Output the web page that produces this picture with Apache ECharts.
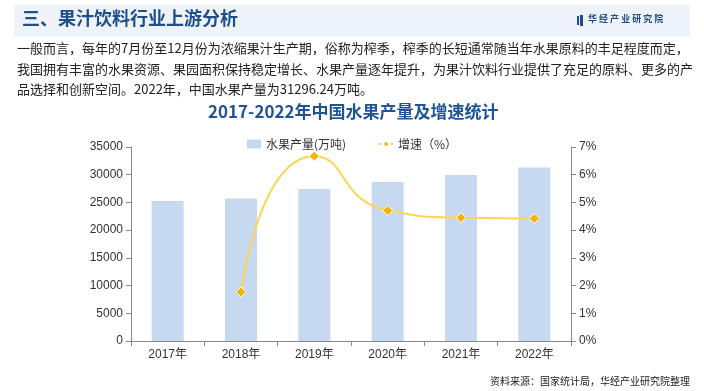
<!DOCTYPE html>
<html><head><meta charset="utf-8">
<script src="https://cdn.jsdelivr.net/npm/echarts@6/dist/echarts.min.js"></script>
<style>html,body{margin:0;padding:0;background:#fff;}#c{width:704px;height:391px;}</style>
</head><body><div id="c"></div>
<script>
const categories = ['2017年','2018年','2019年','2020年','2021年','2022年'];
const production = [25241.9, 25688.35, 27400.84, 28692.36, 29970.2, 31296.24];
const growth = [null, 1.77, 6.67, 4.71, 4.45, 4.42];
const leftTicks = {min:0, max:35000, interval:5000};
const rightTicks = {min:0, max:7, interval:1};

const F = '"Microsoft YaHei","Noto Sans CJK SC",sans-serif';
const FA = 'Arial,"Liberation Sans","Noto Sans CJK SC",sans-serif';
const chart = echarts.init(document.getElementById('c'));
chart.setOption({
  animation:false,
  backgroundColor:'#fff',
  graphic:[
    {type:'rect',shape:{x:14,y:5,width:676,height:32},style:{fill:'#EEF3FA'},z:-1},
    {type:'text',left:22,top:9,style:{text:'三、果汁饮料行业上游分析',font:'bold 18px '+F,fill:'#1F4E8C'}},
    {type:'rect',shape:{x:577,y:16,width:2,height:9},style:{fill:'#1F4E8C'}},
    {type:'rect',shape:{x:580,y:15,width:3,height:11},style:{fill:'#1F4E8C'}},
    {type:'text',left:588,top:14,style:{text:'华 经 产 业 研 究 院',font:'bold 9px '+F,fill:'#1F4E8C'}},
    {type:'text',left:17,top:42,style:{text:'一般而言，每年的7月份至12月份为浓缩果汁生产期，俗称为榨季，榨季的长短通常随当年水果原料的丰足程度而定，',font:'13px '+F,fill:'#222'}},
    {type:'text',left:17,top:63,style:{text:'我国拥有丰富的水果资源、果园面积保持稳定增长、水果产量逐年提升，为果汁饮料行业提供了充足的原料、更多的产',font:'13px '+F,fill:'#222'}},
    {type:'text',left:17,top:83,style:{text:'品选择和创新空间。2022年，中国水果产量为31296.24万吨。',font:'13px '+F,fill:'#222'}},
    {type:'text',left:208,top:103,style:{text:'2017-2022年中国水果产量及增速统计',font:'bold 17px '+F,fill:'#1F5496'}},
    {type:'text',right:14,top:376,style:{text:'资料来源：国家统计局，华经产业研究院整理',font:'10px '+F,fill:'#222'}}
  ],
  legend:{
    top:133,left:'center',itemGap:32,itemWidth:14,itemHeight:9,
    textStyle:{fontSize:12,fontFamily:F,color:'#333'},
    data:[{name:'水果产量(万吨)',icon:'rect'},{name:'增速（%）'}]
  },
  grid:{left:131,right:133,top:147,bottom:50},
  xAxis:{
    type:'category',data:categories,boundaryGap:true,
    axisLine:{lineStyle:{color:'#888'}},
    axisTick:{show:true,alignWithLabel:false,lineStyle:{color:'#888'}},
    axisLabel:{color:'#333',fontSize:12,fontFamily:FA,margin:8}
  },
  yAxis:[
    {type:'value',min:leftTicks.min,max:leftTicks.max,interval:leftTicks.interval,
     axisLine:{show:true,lineStyle:{color:'#888'}},axisTick:{show:true,inside:false,lineStyle:{color:'#888'}},
     splitLine:{show:false},axisLabel:{color:'#333',fontSize:12,fontFamily:FA,margin:8,formatter:v=>String(v)}},
    {type:'value',min:rightTicks.min,max:rightTicks.max,interval:rightTicks.interval,
     axisLine:{show:true,lineStyle:{color:'#888'}},axisTick:{show:true,lineStyle:{color:'#888'}},
     splitLine:{show:false},axisLabel:{color:'#333',fontSize:12,fontFamily:FA,margin:8,formatter:'{value}%'}}
  ],
  series:[
    {name:'水果产量(万吨)',type:'bar',data:production,barWidth:32,
     itemStyle:{color:'#C6D9F1'}},
    {name:'增速（%）',type:'line',yAxisIndex:1,data:growth,smooth:0.6,
     symbol:'diamond',symbolSize:10,
     lineStyle:{color:'#FFD54F',width:2},
     itemStyle:{color:'#F2B600',borderColor:'#fff',borderWidth:1}}
  ]
});
</script></body></html>
